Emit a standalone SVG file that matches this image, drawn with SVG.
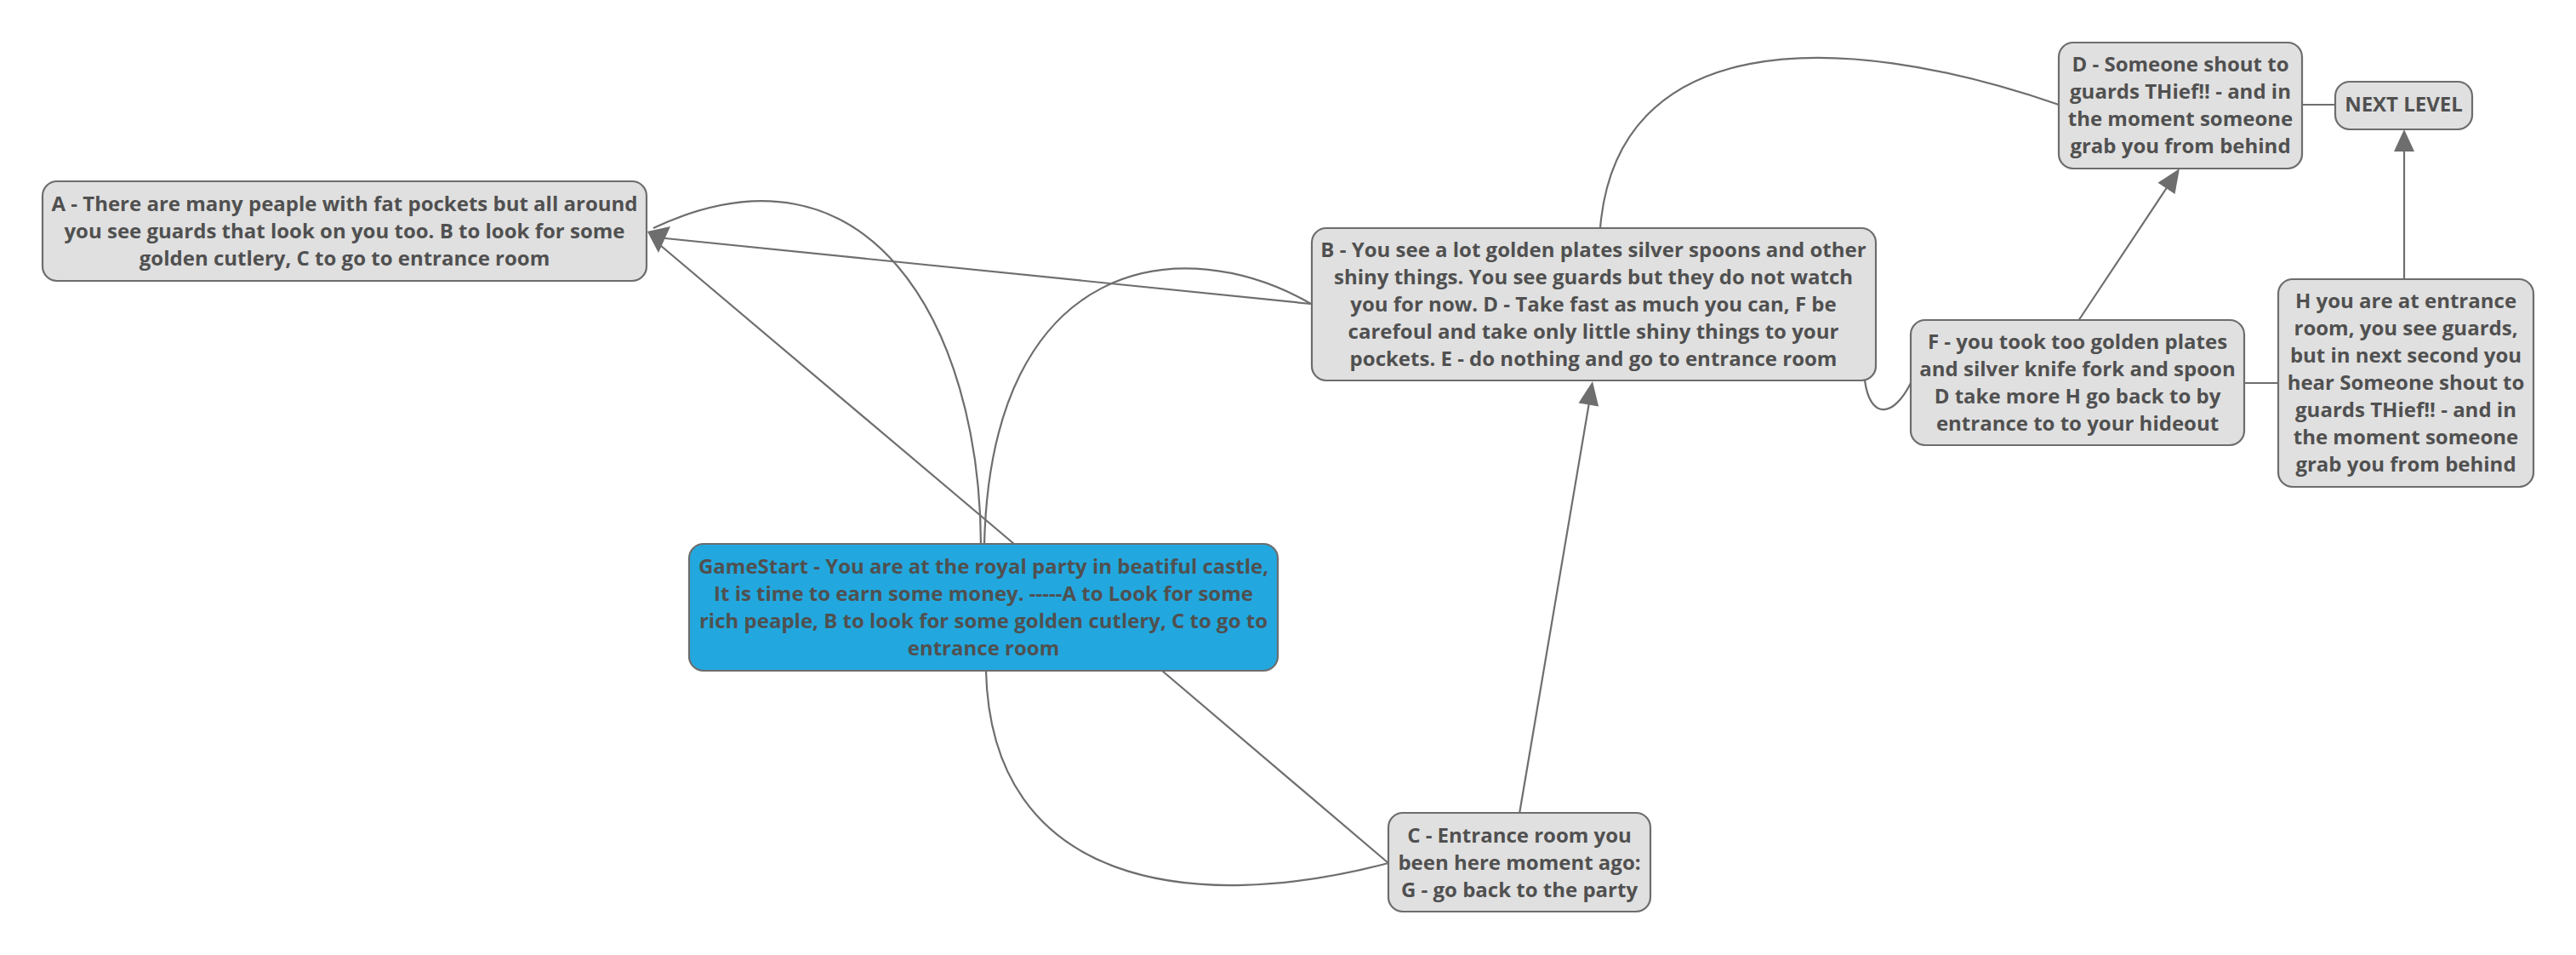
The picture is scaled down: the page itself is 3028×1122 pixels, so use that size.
<svg xmlns="http://www.w3.org/2000/svg" width="3028" height="1122" viewBox="0 0 3028 1122">
<style>
.bg{fill:#ffffff}
.node rect{fill:#e0e0e0;stroke:#6d6d6d;stroke-width:2.2}
.node.start rect{fill:#22a8df}
.node text{font-family:"Open Sans","Noto Sans","DejaVu Sans",sans-serif;font-weight:700;font-size:24px;fill:#505050;text-anchor:middle}
.edge{fill:none;stroke:#6e6e6e;stroke-width:2.2}
.head{fill:#6e6e6e;stroke:none}
</style>
<rect class="bg" x="0" y="0" width="3028" height="1122"/>
<g id="connectors">
<path class="edge" d="M1541,357 L772,279"/>
<path class="edge" d="M1192,639 L776,288"/>
<path class="edge" d="M1153,640 C1152,380 1020,150 768,268"/>
<path class="edge" d="M1157,640 C1165,300 1390,270 1541,357"/>
<path class="edge" d="M1159,788 C1165,1040 1400,1075 1632,1014"/>
<path class="edge" d="M1366,788 L1632,1014"/>
<path class="edge" d="M1786,956 L1868,473"/>
<path class="edge" d="M1881,268 C1900,40 2150,30 2420,123"/>
<path class="edge" d="M2192,447 C2198,492 2225,492 2246,450"/>
<path class="edge" d="M2443,377 L2548,219"/>
<path class="edge" d="M2826,328 L2826,176"/>
<path class="edge" d="M2706,123 L2745,123"/>
<path class="edge" d="M2638,450 L2678,450"/>
<polygon class="head" points="761,272 788,266 774,297"/>
<polygon class="head" points="1872,448 1879.1,477.6 1855.5,473.6"/>
<polygon class="head" points="2562,198 2556.5,227.9 2536.5,214.7"/>
<polygon class="head" points="2826,152 2838,178 2814,178"/>
</g>
<g id="node-A" class="node">
<rect x="50" y="213" width="710" height="117" rx="17"/>
<text x="405" y="248">A - There are many peaple with fat pockets but all around</text>
<text x="405" y="280">you see guards that look on you too. B to look for some</text>
<text x="405" y="312">golden cutlery, C to go to entrance room</text>
</g>
<g id="node-GameStart" class="node start">
<rect x="810" y="639" width="692" height="149" rx="17"/>
<text x="1156" y="674">GameStart - You are at the royal party in beatiful castle,</text>
<text x="1156" y="706">It is time to earn some money. -----A to Look for some</text>
<text x="1156" y="738">rich peaple, B to look for some golden cutlery, C to go to</text>
<text x="1156" y="770">entrance room</text>
</g>
<g id="node-B" class="node">
<rect x="1542" y="268" width="663" height="179" rx="17"/>
<text x="1873" y="302">B - You see a lot golden plates silver spoons and other</text>
<text x="1873" y="334">shiny things. You see guards but they do not watch</text>
<text x="1873" y="366">you for now. D - Take fast as much you can, F be</text>
<text x="1873" y="398">carefoul and take only little shiny things to your</text>
<text x="1873" y="430">pockets. E - do nothing and go to entrance room</text>
</g>
<g id="node-C" class="node">
<rect x="1632" y="955" width="308" height="116" rx="17"/>
<text x="1786" y="990">C - Entrance room you</text>
<text x="1786" y="1022">been here moment ago:</text>
<text x="1786" y="1054">G - go back to the party</text>
</g>
<g id="node-D" class="node">
<rect x="2420" y="50" width="286" height="148" rx="17"/>
<text x="2563" y="84">D - Someone shout to</text>
<text x="2563" y="116">guards THief!! - and in</text>
<text x="2563" y="148">the moment someone</text>
<text x="2563" y="180">grab you from behind</text>
</g>
<g id="node-NEXT" class="node">
<rect x="2745" y="96" width="161" height="56" rx="17"/>
<text x="2825.5" y="131">NEXT LEVEL</text>
</g>
<g id="node-F" class="node">
<rect x="2246" y="376" width="392" height="147" rx="17"/>
<text x="2442" y="410">F - you took too golden plates</text>
<text x="2442" y="442">and silver knife fork and spoon</text>
<text x="2442" y="474">D take more H go back to by</text>
<text x="2442" y="506">entrance to to your hideout</text>
</g>
<g id="node-H" class="node">
<rect x="2678" y="328" width="300" height="244" rx="17"/>
<text x="2828" y="362">H you are at entrance</text>
<text x="2828" y="394">room, you see guards,</text>
<text x="2828" y="426">but in next second you</text>
<text x="2828" y="458">hear Someone shout to</text>
<text x="2828" y="490">guards THief!! - and in</text>
<text x="2828" y="522">the moment someone</text>
<text x="2828" y="554">grab you from behind</text>
</g>
</svg>
